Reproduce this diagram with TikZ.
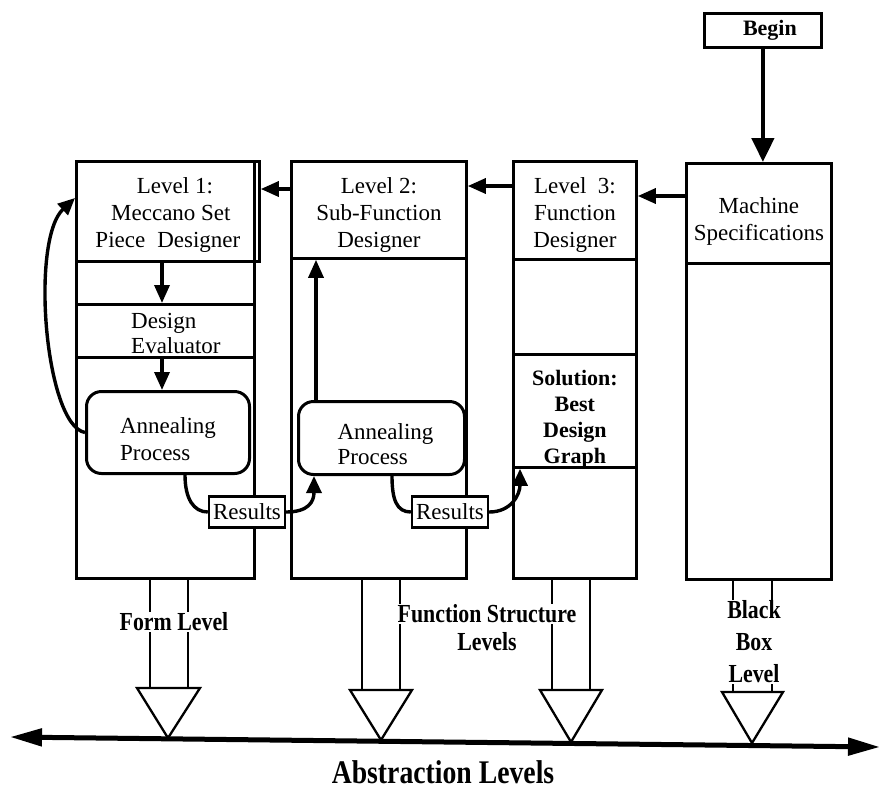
\documentclass[tikz,border=0pt]{standalone}
\usepackage{fontspec}
\setmainfont{Liberation Serif}
\newfontfamily\condserif[FakeStretch=0.84]{Liberation Serif}
\usetikzlibrary{arrows.meta}
\begin{document}
\begin{tikzpicture}[x=1pt,y=-1pt,
  frame/.style={draw,line width=2.8pt,inner sep=0pt,anchor=north west},
  txt/.style={font=\fontsize{23}{27}\selectfont,align=center},
  btxt/.style={font=\bfseries\fontsize{22}{26}\selectfont,align=center},
  flow/.style={line width=3.4pt,-{Triangle[length=18pt,width=15pt]}},
  curveline/.style={line width=3.4pt},
  curvearr/.style={line width=3.4pt,-{Triangle[length=17pt,width=15pt]}},
  leg/.style={line width=1.9pt},
  tri/.style={line width=2.3pt,line join=miter},
  rbox/.style={draw,line width=3pt,rounded corners=15pt,anchor=north west},
  lvl/.style={font=\condserif\bfseries\fontsize{26}{32}\selectfont,fill=white,inner sep=1pt,align=center},
]
\useasboundingbox (0,0) rectangle (886,793);

% column bodies
\node[frame,minimum width=178,minimum height=417] (c1) at (75,160) {};
\node[frame,minimum width=175,minimum height=417] (c2) at (290,160) {};
\node[frame,minimum width=123,minimum height=417] (c3) at (512,160) {};
\node[frame,minimum width=145,minimum height=416] (c4) at (685,162) {};

% headers
\node[frame,minimum width=183,minimum height=100] (h1) at (75,160) {};
\node[frame,minimum width=175,minimum height=97] (h2) at (290,160) {};
\node[frame,minimum width=123,minimum height=98] (h3) at (512,160) {};
\node[frame,minimum width=145,minimum height=100] (h4) at (685,162) {};
\node[txt] (h1t) at ([yshift=-4pt]h1.center) {\hspace*{14pt}Level 1:\\\hspace*{6pt}Meccano Set\\Piece\hspace{12pt}Designer};
\node[txt] (h2t) at ([yshift=-5pt]h2.center) {Level 2:\\Sub-Function\\Designer};
\node[txt] (h3t) at ([yshift=-5pt]h3.center) {Level\ \ 3:\\Function\\Designer};
\node[txt] (h4t) at ([yshift=-8pt]h4.center) {Machine\\Specifications};

% column 1 inner rows
\node[frame,minimum width=178,minimum height=43] (r1) at (75,260) {};
\node[frame,minimum width=178,minimum height=53] (de) at (75,303) {};
\node[anchor=north west,inner sep=0pt,font=\fontsize{23}{25}\selectfont,align=left] (detxt) at (131,313) {Design\\Evaluator};

% annealing processes
\node[rbox,minimum width=163,minimum height=82] (an1) at (85,390) {};
\node[rbox,minimum width=166,minimum height=73] (an2) at (297,400) {};
\node[txt,align=left] (an1t) at ([yshift=-7pt]an1.center) {Annealing\\Process};
\node[txt,align=left,font=\fontsize{23}{25}\selectfont] (an2t) at ([xshift=4pt,yshift=-6pt]an2.center) {Annealing\\Process};

% solution
\node[frame,minimum width=123,minimum height=113] (sol) at (512,353) {};
\node[btxt] (solt) at ([yshift=-8pt]sol.center) {Solution:\\Best\\Design\\Graph};

% helper coordinates
\coordinate (y196) at (0,196);
\coordinate (y186) at (0,186);
\coordinate (y189) at (0,189);
\coordinate (y198) at (0,198);
\coordinate (ax1) at (162,0);
\coordinate (ax2) at (316,0);
\coordinate (b1) at (185,0);
\coordinate (b2) at (314,0);
\coordinate (b3) at (392,0);
\coordinate (b4) at (520,0);

% results
\node[draw,fill=white,line width=2.6pt,txt,inner xsep=4pt,inner ysep=1pt,minimum height=31] (res1) at (247,512) {Results};
\node[draw,fill=white,line width=2.6pt,txt,inner xsep=4pt,inner ysep=1pt,minimum height=31] (res2) at (450,512) {Results};

% begin
\node[frame,font=\bfseries\fontsize{22}{26}\selectfont,minimum width=117,minimum height=34] (begin) at (703,12) {\hspace*{14pt}Begin};

% main flow arrows
\draw[line width=4.5pt,-{Triangle[length=24pt,width=22pt]}] (begin.south) -- (begin.south |- h4.north);
\draw[flow] (h4.west |- y196) -- (h3.east |- y196);
\draw[flow] (h3.west |- y186) -- (h2.east |- y186);
\draw[flow] (h2.west |- y189) -- (h1.east |- y189);
\draw[flow] (h1.south -| ax1) -- (de.north -| ax1);
\draw[flow] (de.south -| ax1) -- (an1.north -| ax1);
\draw[flow] (an2.north -| ax2) -- (h2.south -| ax2);
\draw[curvearr] (an1.west) .. controls (45,425) and (30,240) .. (h1.west |- y198);

% results flow
\draw[curveline] (an1.south -| b1) .. controls +(0,24) and +(-14,0) .. (res1.west);
\draw[curvearr] (res1.east) .. controls +(22,0) and +(0,26) .. (an2.south -| b2);
\draw[curveline] (an2.south -| b3) .. controls +(0,24) and +(-14,0) .. (res2.west);
\draw[curvearr] (res2.east) .. controls +(22,0) and +(0,26) .. (sol.south -| b4);

% legs
\coordinate (l1a) at (150,688); \coordinate (l1b) at (188,688);
\coordinate (l2a) at (362,690); \coordinate (l2b) at (400,690);
\coordinate (l3a) at (552,690); \coordinate (l3b) at (590,690);
\coordinate (l4a) at (733,692); \coordinate (l4b) at (772,692);
\draw[leg] (c1.south -| l1a) -- (l1a);
\draw[leg] (c1.south -| l1b) -- (l1b);
\draw[leg] (c2.south -| l2a) -- (l2a);
\draw[leg] (c2.south -| l2b) -- (l2b);
\draw[leg] (c3.south -| l3a) -- (l3a);
\draw[leg] (c3.south -| l3b) -- (l3b);
\draw[leg] (c4.south -| l4a) -- (l4a);
\draw[leg] (c4.south -| l4b) -- (l4b);

% triangles
\draw[tri] (137,688) -- (200,688) -- (168,738) -- cycle;
\draw[tri] (350,690) -- (412,690) -- (381,740) -- cycle;
\draw[tri] (540,690) -- (602,690) -- (571,742) -- cycle;
\draw[tri] (722,692) -- (783,692) -- (752,743) -- cycle;

% axis
\coordinate (axL) at (10,737);
\coordinate (axR) at (880,747);
\draw[line width=5pt,{Triangle[length=32pt,width=17pt]}-{Triangle[length=32pt,width=17pt]}] (axL) -- (axR);

% level labels
\node[lvl] (formlvl) at (174,622) {Form Level};
\node[lvl] (fsl1) at (487,614) {Function Structure};
\node[lvl,fill=none] (fsl2) at (487,642) {Levels};
\node[lvl] (bbl) at (754,642) {Black\\Box\\Level};

\node[font=\condserif\bfseries\fontsize{33}{36}\selectfont] (abs) at (443,772) {Abstraction Levels};
\end{tikzpicture}
\end{document}
